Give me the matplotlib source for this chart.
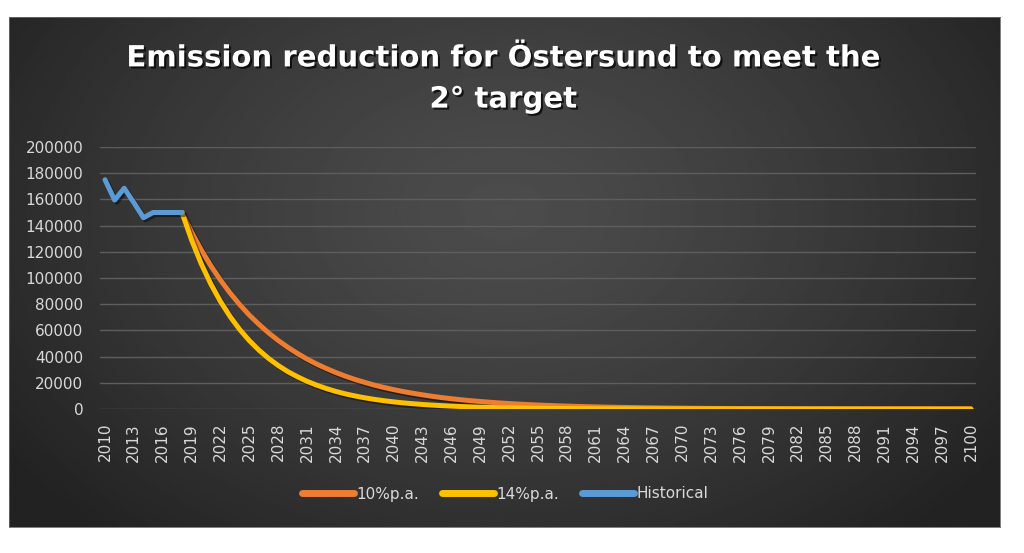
#emission_reduction_ostersund.py
#
#Line chart of historical emissions for Ostersund and two reduction paths
#(10% and 14% per annum) needed to meet the 2 degree target.

import numpy as np
import matplotlib
matplotlib.use('Agg')
import matplotlib.pyplot as plt
import matplotlib.patheffects as pe

#==================================================================================================
#			DATA
#==================================================================================================
#Historical emissions (2010 - 2018)
hist_years = [2010, 2011, 2012, 2013, 2014, 2015, 2016, 2017, 2018]
hist_vals = [175000, 159500, 168500, 157500, 146000, 150000, 150000, 150000, 150000]

#Reduction paths (2018 - 2100)
proj_years = list(range(2018, 2101))
red10 = [150000, 135000, 121500, 109350, 98400, 88600, 79700, 71700, 64600, 58100,
         52300, 47100, 42400, 38100, 34300, 30900, 27800, 25000, 22500, 20300,
         18200, 16400, 14800, 13300, 12000, 10800, 9700, 8700, 7850, 7060,
         6360, 5720, 5150, 4640, 4170, 3750, 3380, 3040, 2740, 2460,
         2220, 2000, 1800, 1620, 1450, 1310, 1180, 1060, 950, 860,
         770, 700, 630, 560, 510, 460, 410, 370, 330, 300,
         270, 240, 220, 200, 180, 160, 140, 130, 120, 100,
         94, 85, 76, 69, 62, 56, 50, 45, 40, 36,
         33, 29, 26]
red14 = [150000, 129000, 110900, 95400, 82100, 70600, 60700, 52200, 44900, 38600,
         33200, 28500, 24600, 21100, 18200, 15600, 13400, 11500, 9930, 8540,
         7350, 6320, 5430, 4670, 4020, 3460, 2970, 2560, 2200, 1890,
         1630, 1400, 1200, 1030, 890, 770, 660, 570, 490, 420,
         360, 310, 270, 230, 200, 170, 150, 125, 110, 93,
         80, 69, 59, 51, 44, 38, 32, 28, 24, 21,
         18, 15, 13, 11, 10, 8, 7, 6, 5, 4,
         4, 3, 3, 2, 2, 2, 1, 1, 1, 1,
         1, 1, 1]

#Axis ticks
x_ticks = list(range(2010, 2101, 3))
y_ticks = [0, 20000, 40000, 60000, 80000, 100000, 120000, 140000, 160000, 180000, 200000]

#Labels
title = "Emission reduction for \u00d6stersund to meet the\n2\u00b0 target"
labels = ["10%p.a.", "14%p.a.", "Historical"]
colors = ["#ED7D31", "#FFC000", "#5B9BD5"]

#==================================================================================================
#			FIGURE
#==================================================================================================
W, H = 1024, 553
fig = plt.figure( figsize=(W/100., H/100.), dpi=100, facecolor='white' )

#Dark radial background panel
bg = fig.add_axes( [9./W, 1-527./H, 991./W, 510./H] )
ny, nx = 200, 400
yy, xx = np.mgrid[0:1:ny*1j, 0:1:nx*1j]
r = np.sqrt( ((xx-0.5)/0.62)**2 + ((yy-0.38)/0.85)**2 )
val = (76 - 42*np.clip(r, 0, 1)**1.3)/255.
bg.imshow( val, cmap='gray', vmin=0, vmax=1, aspect='auto', extent=[0,1,1,0], interpolation='bilinear' )
bg.set_xlim(0,1); bg.set_ylim(1,0)
bg.set_xticks([]); bg.set_yticks([])
for s in bg.spines.values():
    s.set_color('#6a6a6a'); s.set_linewidth(0.6)

#Plot area
ax = fig.add_axes( [100./W, 1-409./H, 876./W, 262./H] )
ax.set_facecolor('none')
for s in ax.spines.values():
    s.set_visible(False)

shadow = [pe.SimpleLineShadow(offset=(1.5,-1.5), shadow_color='black', alpha=0.45), pe.Normal()]
ax.plot( proj_years, red10, color=colors[0], lw=3.6, label=labels[0], path_effects=shadow,
         solid_capstyle='round', solid_joinstyle='round', zorder=3 )
ax.plot( proj_years, red14, color=colors[1], lw=3.6, label=labels[1], path_effects=shadow,
         solid_capstyle='round', solid_joinstyle='round', zorder=4 )
ax.plot( hist_years, hist_vals, color=colors[2], lw=3.6, label=labels[2], path_effects=shadow,
         solid_capstyle='round', solid_joinstyle='round', zorder=5 )

ax.set_xlim( 2010-0.52, 2100+0.52 )
ax.set_ylim( 0, 200000 )
ax.set_yticks( y_ticks )
ax.set_yticklabels( [str(v) for v in y_ticks] )
ax.set_xticks( x_ticks )
ax.set_xticklabels( [str(v) for v in x_ticks], rotation=90 )
ax.tick_params( axis='y', length=0, pad=12, labelsize=11, labelcolor='#d9d9d9' )
ax.tick_params( axis='x', length=0, pad=10, labelsize=11, labelcolor='#d9d9d9' )
ax.grid( axis='y', color='#5e5e5e', lw=1.0 )
ax.set_axisbelow(True)

#Title
fig.text( 503./W, 1-79./H, title, ha='center', va='center', color='white', fontsize=21,
          fontweight='bold', linespacing=1.6,
          path_effects=[pe.SimplePatchShadow(offset=(1.5,-1.5), shadow_rgbFace='black', alpha=0.7), pe.Normal()] )

#Legend
leg = fig.legend( loc='center', bbox_to_anchor=(505./W, 1-494./H), ncol=3, frameon=False,
                  fontsize=11, labelcolor='#d9d9d9', handlelength=3.4, handletextpad=0.15,
                  columnspacing=1.5 )
for h in leg.get_lines():
    h.set_linewidth(5)
    h.set_solid_capstyle('round')
    h.set_path_effects([])

fig.savefig( 'out.png', dpi=100, facecolor='white' )
